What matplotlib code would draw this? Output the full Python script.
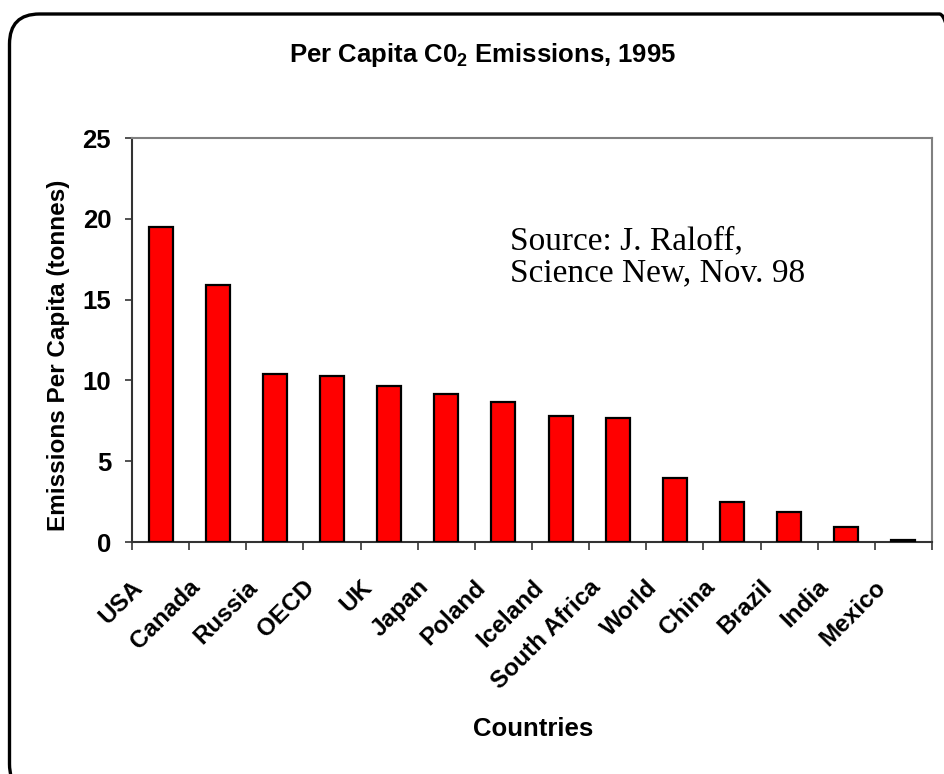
import matplotlib
matplotlib.use("Agg")
import matplotlib.pyplot as plt
from matplotlib.patches import FancyBboxPatch
from matplotlib.transforms import ScaledTranslation

plt.rcParams['font.family'] = ['Liberation Sans', 'DejaVu Sans']
plt.rcParams['mathtext.fontset'] = 'custom'
plt.rcParams['mathtext.rm'] = 'Liberation Sans:bold'
plt.rcParams['mathtext.it'] = 'Liberation Sans:bold'
plt.rcParams['mathtext.bf'] = 'Liberation Sans:bold'

# Per capita CO2 emissions, 1995 (tonnes)
countries = ['USA', 'Canada', 'Russia', 'OECD', 'UK', 'Japan', 'Poland', 'Iceland',
             'South Africa', 'World', 'China', 'Brazil', 'India', 'Mexico']
emissions = [19.5, 15.9, 10.4, 10.25, 9.65, 9.15, 8.65, 7.8, 7.7, 3.95, 2.5, 1.85, 0.9, 0.15]
y_ticks = [0, 5, 10, 15, 20, 25]

fig = plt.figure(figsize=(9.45, 7.74), dpi=100)
ax = fig.add_axes([0.1397, 0.2997, 0.8465, 0.522])

centers = [i + 0.5 for i in range(len(countries))]
ax.bar(centers, emissions, width=0.42, color='#ff0000', edgecolor='black', linewidth=1.6, zorder=3)

ax.set_xlim(0, len(countries))
ax.set_ylim(0, 25)
ax.set_yticks(y_ticks)
ax.set_yticklabels([str(t) for t in y_ticks], fontsize=18.5, fontweight='bold')

# ticks sit on category boundaries; names are placed under each bar
ax.set_xticks(range(len(countries) + 1))
ax.set_xticklabels([])
label_offset = ScaledTranslation(-0.29, -0.335, fig.dpi_scale_trans)
for c, name in zip(centers, countries):
    ax.text(c, 0, name, transform=ax.get_xaxis_transform() + label_offset,
            rotation=45, ha='right', va='top', rotation_mode='anchor',
            fontsize=17.5, fontweight='bold', clip_on=False)

ax.tick_params(axis='x', direction='out', length=6, width=1.3, color='#444444')
ax.tick_params(axis='y', direction='out', length=5, width=1.3, color='#444444', pad=10)

for side in ['left', 'bottom']:
    ax.spines[side].set_color('#333333')
    ax.spines[side].set_linewidth(1.5)
for side in ['top', 'right']:
    ax.spines[side].set_color('#808080')
    ax.spines[side].set_linewidth(1.5)

ax.set_ylabel('Emissions Per Capita (tonnes)', fontsize=17.5, fontweight='bold')
ax.yaxis.set_label_coords(-0.0775, 0.463)
ax.set_xlabel('Countries', fontsize=18.5, fontweight='bold')
ax.xaxis.set_label_coords(0.501, -0.433)

fig.text(0.511, 0.929, 'Per Capita C0$_2$ Emissions, 1995', ha='center', va='center',
         fontsize=18.5, fontweight='bold')

fig.text(0.54, 0.668, 'Source: J. Raloff,\nScience New, Nov. 98', family='Liberation Serif',
         fontsize=24, ha='left', va='center', linespacing=1.1)

# rounded outer frame, running off the right and bottom edges
frame = FancyBboxPatch((0.095, -0.2), 9.6, 7.8, boxstyle='round,pad=0,rounding_size=0.3',
                       transform=fig.dpi_scale_trans, facecolor='none', edgecolor='black',
                       linewidth=2.4, clip_on=False)
fig.patches.append(frame)

fig.savefig('out.png', dpi=100)
